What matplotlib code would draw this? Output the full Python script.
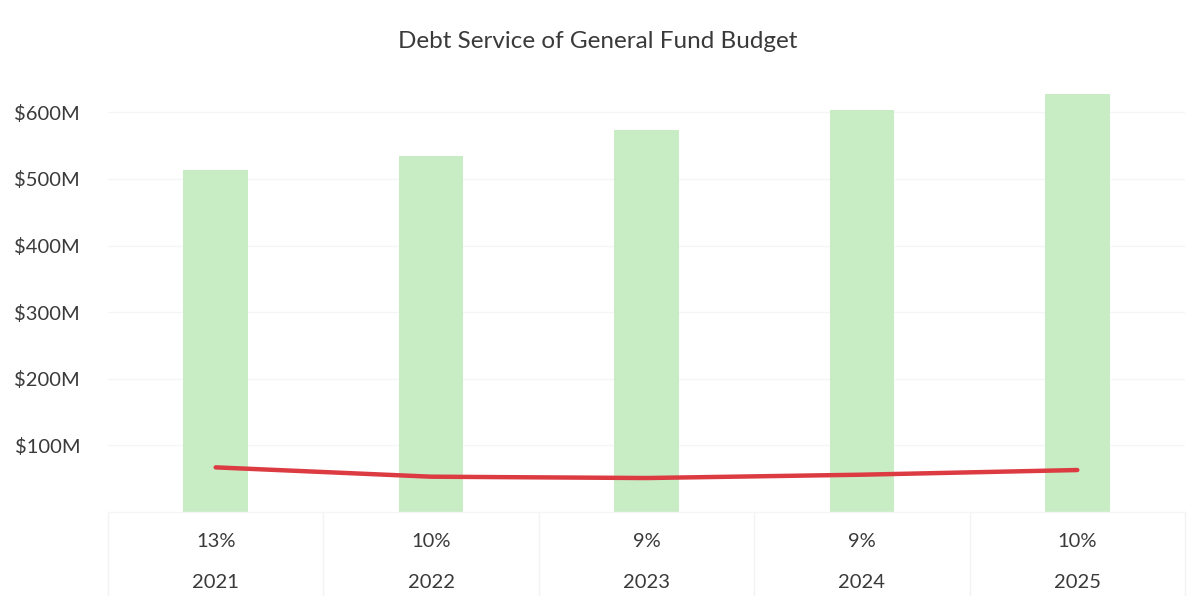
import matplotlib.pyplot as plt
import numpy as np

years = ['2021', '2022', '2023', '2024', '2025']
budget = [513, 535, 573, 603, 628]        # general fund budget, $M
debt_service = [67, 53, 51, 56, 63]       # debt service, $M
y_ticks = [100, 200, 300, 400, 500, 600]

text_color = '#3a3a3a'
plt.rcParams['font.family'] = ['Lato', 'DejaVu Sans']

fig = plt.figure(figsize=(11.95, 5.96), dpi=100)
ax = fig.add_axes([108 / 1195, 84 / 596, 1077 / 1195, 433 / 596])

x = np.arange(len(years))
ax.bar(x, budget, width=0.30, color='#c8ecc4', zorder=2)
ax.plot(x, debt_service, color='#dc3b42', lw=3.2, solid_capstyle='round', zorder=3)

ax.set_xlim(-0.5, len(years) - 0.5)
ax.set_ylim(0, 650)
ax.set_yticks(y_ticks)
ax.set_yticklabels([f'${v}M' for v in y_ticks])
ax.yaxis.grid(True, color='#f5f5f5', lw=1)
ax.set_axisbelow(True)
ax.tick_params(axis='y', length=0, pad=20, labelsize=14.5, labelcolor=text_color)
ax.set_xticks([])
for s in ax.spines.values():
    s.set_visible(False)

# data table under the plot: share of budget and year
tr = ax.get_xaxis_transform()
for i, (b, d) in enumerate(zip(budget, debt_service)):
    ax.text(i, -0.069, f'{round(100 * d / b)}%', transform=tr, ha='center', va='center',
            fontsize=14.5, color=text_color)
    ax.text(i, -0.162, years[i], transform=tr, ha='center', va='center',
            fontsize=14.5, color=text_color)
for xv in np.arange(-0.5, len(years), 1.0):
    ax.plot([xv, xv], [0, -0.2], transform=tr, color='#f3f3f3', lw=1, clip_on=False)
ax.plot([-0.5, len(years) - 0.5], [0, 0], transform=tr, color='#f5f5f5', lw=1, clip_on=False)

fig.suptitle('Debt Service of General Fund Budget', y=1 - 42 / 596, va='center',
             fontsize=17.5, color=text_color)

fig.savefig('out.png', dpi=100)
